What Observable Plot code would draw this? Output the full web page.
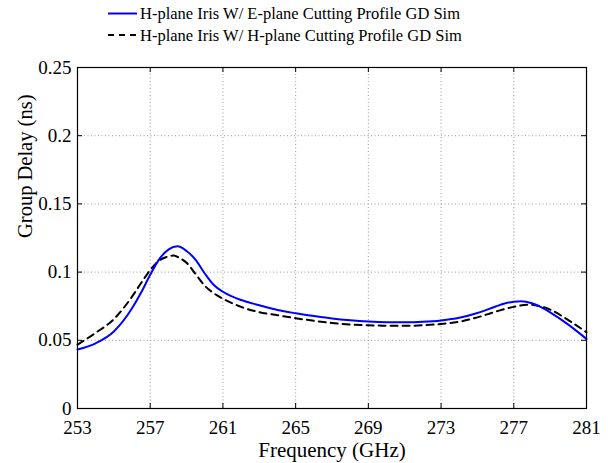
<!DOCTYPE html>
<html>
<head>
<meta charset="utf-8">
<script src="https://cdn.jsdelivr.net/npm/d3@7"></script>
<script src="https://cdn.jsdelivr.net/npm/@observablehq/plot@0.6"></script>
<style>
  html, body { margin: 0; padding: 0; background: #fff; }
  #wrap { position: relative; width: 608px; height: 463px; font-family: "Liberation Serif", "Times New Roman", serif; }
  #legend { position: absolute; left: 0; top: 0; }
  #chart { position: absolute; left: 0; top: 50px; }
</style>
</head>
<body>
<div id="wrap">
  <svg id="legend" width="608" height="50"></svg>
  <div id="chart"></div>
</div>
<script>
// ---- data ----
const seriesNames = [
  "H-plane Iris W/ E-plane Cutting Profile GD Sim",
  "H-plane Iris W/ H-plane Cutting Profile GD Sim"
];
const freqE = [253, 254, 255, 256, 256.5, 257, 257.5, 258, 258.5, 259, 259.5, 260, 260.5, 261, 262, 263, 264, 265, 266, 267, 268, 269, 270, 271, 272, 273, 274, 275, 276, 276.5, 277, 277.4, 278, 278.5, 279, 280, 281];
const gdE   = [0.0432, 0.0478, 0.0565, 0.0735, 0.0850, 0.0980, 0.1095, 0.1165, 0.1189, 0.1155, 0.1090, 0.0990, 0.0905, 0.0856, 0.0795, 0.0757, 0.0722, 0.0698, 0.0678, 0.0660, 0.0647, 0.0638, 0.0633, 0.0632, 0.0636, 0.0646, 0.0665, 0.0700, 0.0748, 0.0770, 0.0783, 0.0787, 0.0772, 0.0743, 0.0705, 0.0615, 0.0510];
const freqH = [253, 254, 255, 256, 256.5, 257, 257.5, 258, 258.3, 258.6, 259, 259.5, 260, 260.5, 261, 262, 263, 264, 265, 266, 267, 268, 269, 270, 271, 272, 273, 274, 275, 276, 277, 277.9, 278.5, 279, 280, 281];
const gdH   = [0.0468, 0.0555, 0.0655, 0.0820, 0.0920, 0.1015, 0.1085, 0.1115, 0.1122, 0.1105, 0.1068, 0.0985, 0.0900, 0.0845, 0.0805, 0.0745, 0.0706, 0.0684, 0.0662, 0.0643, 0.0627, 0.0616, 0.0610, 0.0607, 0.0606, 0.0610, 0.0620, 0.0636, 0.0668, 0.0710, 0.0745, 0.0762, 0.0748, 0.0725, 0.0648, 0.0559];
const xTicks = [253, 257, 261, 265, 269, 273, 277, 281];
const yTicks = [0, 0.05, 0.1, 0.15, 0.2, 0.25];
const yTickLabels = ["0", "0.05", "0.1", "0.15", "0.2", "0.25"];
const xLabel = "Frequency (GHz)";
const yLabel = "Group Delay (ns)";

const rowsE = freqE.map((f, i) => ({f, v: gdE[i]}));
const rowsH = freqH.map((f, i) => ({f, v: gdH[i]}));

const W = 608, H = 413;
const mL = 77, mR = 22, mT = 17, mB = 55;
const plotW = W - mL - mR, plotH = H - mT - mB;
const tk = 5;
const serif = "'Liberation Serif', 'Times New Roman', serif";

const chart = Plot.plot({
  width: W, height: H,
  marginLeft: mL, marginRight: mR, marginTop: mT, marginBottom: mB,
  style: { fontFamily: serif, fontSize: "19px", color: "#000", background: "#fff" },
  x: { domain: [253, 281] },
  y: { domain: [0, 0.25] },
  marks: [
    // grid
    Plot.ruleX(xTicks.slice(1, -1), { stroke: "#999", strokeWidth: 1, strokeDasharray: "1,2.5" }),
    Plot.ruleY(yTicks.slice(1, -1), { stroke: "#999", strokeWidth: 1, strokeDasharray: "1,2.5" }),
    // inward ticks
    Plot.ruleX(xTicks, { stroke: "#000", insetTop: plotH - tk }),
    Plot.ruleX(xTicks, { stroke: "#000", insetBottom: plotH - tk }),
    Plot.ruleY(yTicks, { stroke: "#000", insetRight: plotW - tk }),
    Plot.ruleY(yTicks, { stroke: "#000", insetLeft: plotW - tk }),
    // curves
    Plot.line(rowsH, { x: "f", y: "v", stroke: "#000", strokeWidth: 2, strokeDasharray: "7,5", curve: "monotone-x" }),
    Plot.line(rowsE, { x: "f", y: "v", stroke: "#0000ff", strokeWidth: 2, curve: "monotone-x" }),
    Plot.frame({ stroke: "#000", strokeWidth: 1.2 }),
    // axes
    Plot.axisX({ ticks: xTicks, tickSize: 0, tickPadding: 12, fontSize: 19, label: null }),
    Plot.axisY({ ticks: yTicks, tickSize: 0, tickPadding: 6, fontSize: 19, tickFormat: (d) => yTickLabels[yTicks.indexOf(d)], label: null }),
    // axis titles
    Plot.text([xLabel], { text: (d) => d, frameAnchor: "bottom", dy: 48, fontSize: 21, fill: "#000" }),
    Plot.text([yLabel], { text: (d) => d, frameAnchor: "left", rotate: -90, dx: -52, fontSize: 20.5, fill: "#000" })
  ]
});
document.getElementById("chart").appendChild(chart);

// ---- legend ----
const leg = d3.select("#legend");
const legStyles = [
  { stroke: "#0000ff", dash: null },
  { stroke: "#000", dash: "6,5" }
];
seriesNames.forEach((name, i) => {
  const y = 13.5 + i * 21.5;
  leg.append("line")
    .attr("x1", 108).attr("x2", 137).attr("y1", y).attr("y2", y)
    .attr("stroke", legStyles[i].stroke).attr("stroke-width", 2)
    .attr("stroke-dasharray", legStyles[i].dash);
  leg.append("text")
    .attr("x", 140).attr("y", y).attr("dy", "0.35em")
    .attr("font-family", serif)
    .attr("font-size", 16.5).attr("fill", "#000")
    .text(name);
});
</script>
</body>
</html>
